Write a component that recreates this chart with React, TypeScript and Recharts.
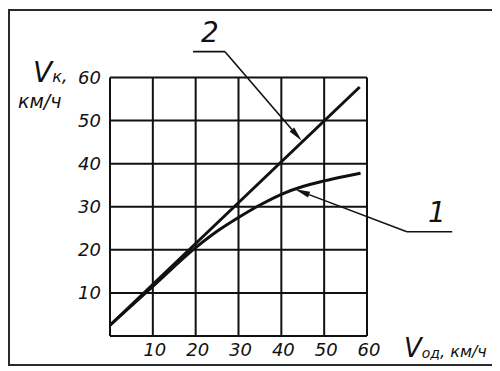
import React from "react";
import { LineChart, Line, XAxis, YAxis, CartesianGrid, ReferenceLine, ReferenceDot } from "recharts";

const xTicks = [10, 20, 30, 40, 50, 60];
const yTicks = [10, 20, 30, 40, 50, 60];

const line2X = [0, 58.3];
const line2Y = [2.5, 57.8];

const curve1X = [0, 10, 20, 25, 30, 35, 40, 45, 50, 55, 58.5];
const curve1Y = [2.5, 11.5, 20.5, 24.3, 27.5, 30.4, 32.9, 34.7, 36.0, 37.1, 37.8];

// annotation leaders (data coordinates)
const leader2 = [
  { x: 19.4, y: 66.0 },
  { x: 26.85, y: 66.0 },
  { x: 44.75, y: 45.3 },
];
const leader1 = [
  { x: 79.9, y: 24.2 },
  { x: 69.3, y: 24.2 },
  { x: 43.2, y: 34.05 },
];
const label2 = { x: 23.3, y: 70.5, text: "2" };
const label1 = { x: 76.3, y: 28.7, text: "1" };

const line2Data = line2X.map((x, i) => ({ x, y: line2Y[i] }));
const curve1Data = curve1X.map((x, i) => ({ x, y: curve1Y[i] }));

const FONT = "'DejaVu Sans', sans-serif";
const INK = "#111";

const YTick = (props: any) => {
  const { x, y, payload } = props;
  return (
    <text x={x - 9} y={y + 6.5} textAnchor="end" fontFamily={FONT} fontStyle="italic" fontWeight={200} fontSize={18} fill={INK}>
      {payload.value}
    </text>
  );
};

const XTick = (props: any) => {
  const { x, y, payload } = props;
  return (
    <text x={x + 2} y={y + 20} textAnchor="middle" fontFamily={FONT} fontStyle="italic" fontWeight={200} fontSize={18} fill={INK}>
      {payload.value}
    </text>
  );
};

const ArrowLine = (props: any) => {
  const { x1, y1, x2, y2 } = props;
  const dx = x2 - x1;
  const dy = y2 - y1;
  const len = Math.sqrt(dx * dx + dy * dy) || 1;
  const ux = dx / len;
  const uy = dy / len;
  const L = 15;
  const W = 3;
  const bx = x2 - ux * L;
  const by = y2 - uy * L;
  const pts = `${x2},${y2} ${bx - uy * W},${by + ux * W} ${bx + uy * W},${by - ux * W}`;
  return (
    <g>
      <line x1={x1} y1={y1} x2={bx} y2={by} stroke={INK} strokeWidth={1.6} />
      <polygon points={pts} fill={INK} />
    </g>
  );
};

const PlainLine = (props: any) => {
  const { x1, y1, x2, y2 } = props;
  return <line x1={x1} y1={y1} x2={x2} y2={y2} stroke={INK} strokeWidth={1.6} />;
};

const makeLabel = (text: string) => (props: any) => {
  const { cx, cy } = props;
  return (
    <text x={cx} y={cy + 10} textAnchor="middle" fontFamily={FONT} fontStyle="italic" fontWeight={200} fontSize={28} fill={INK}>
      {text}
    </text>
  );
};

const YAxisTitle = () => (
  <g>
    <text x={25} y={74} fontFamily={FONT} fontStyle="italic" fontWeight={200} fontSize={28} fill={INK}>
      V
      <tspan fontSize={16}>к</tspan>
      <tspan fontSize={19}>,</tspan>
    </text>
    <text x={10} y={100} fontFamily={FONT} fontStyle="italic" fontWeight={200} fontSize={19} fill={INK}>
      км/ч
    </text>
  </g>
);

const XAxisTitle = () => (
  <text x={396} y={349} fontFamily={FONT} fontStyle="italic" fontWeight={200} fontSize={26} fill={INK}>
    V
    <tspan fontSize={14} dy={1}>од</tspan>
    <tspan fontSize={16} dy={-1}>, км/ч</tspan>
  </text>
);

export default function App() {
  return (
    <div style={{ position: "relative", width: 488, height: 360, background: "#fff" }}>
      <LineChart
        width={488}
        height={360}
        margin={{ top: 69.5, right: 129, bottom: 2, left: 42 }}
        style={{ position: "absolute", left: 0, top: 0, overflow: "visible" }}
      >
        <CartesianGrid stroke={INK} strokeWidth={2} horizontalValues={yTicks} verticalValues={xTicks} />
        <XAxis
          type="number"
          dataKey="x"
          domain={[0, 60]}
          ticks={xTicks}
          height={30}
          tickSize={0}
          tickMargin={0}
          tickLine={false}
          axisLine={{ stroke: INK, strokeWidth: 2 }}
          tick={<XTick />}
          allowDataOverflow
          label={{ content: () => <XAxisTitle /> }}
        />
        <YAxis
          type="number"
          dataKey="y"
          domain={[0, 60]}
          ticks={yTicks}
          width={60}
          tickSize={0}
          tickMargin={0}
          tickLine={false}
          axisLine={{ stroke: INK, strokeWidth: 2 }}
          tick={<YTick />}
          allowDataOverflow
          label={{ content: () => <YAxisTitle /> }}
        />
        <Line data={line2Data} dataKey="y" type="linear" stroke={INK} strokeWidth={3} dot={false} isAnimationActive={false} />
        <Line data={curve1Data} dataKey="y" type="monotone" stroke={INK} strokeWidth={3} dot={false} isAnimationActive={false} />
        <ReferenceLine segment={[leader2[0], leader2[1]]} ifOverflow="visible" shape={PlainLine} />
        <ReferenceLine segment={[leader2[1], leader2[2]]} ifOverflow="visible" shape={ArrowLine} />
        <ReferenceLine segment={[leader1[0], leader1[1]]} ifOverflow="visible" shape={PlainLine} />
        <ReferenceLine segment={[leader1[1], leader1[2]]} ifOverflow="visible" shape={ArrowLine} />
        <ReferenceDot x={label2.x} y={label2.y} r={0} ifOverflow="visible" shape={makeLabel(label2.text)} />
        <ReferenceDot x={label1.x} y={label1.y} r={0} ifOverflow="visible" shape={makeLabel(label1.text)} />
      </LineChart>
      <div
        style={{
          position: "absolute",
          left: 0,
          top: 1,
          width: 487,
          height: 357,
          border: "2px solid #2a2a2a",
          boxSizing: "border-box",
          pointerEvents: "none",
        }}
      />
    </div>
  );
}
